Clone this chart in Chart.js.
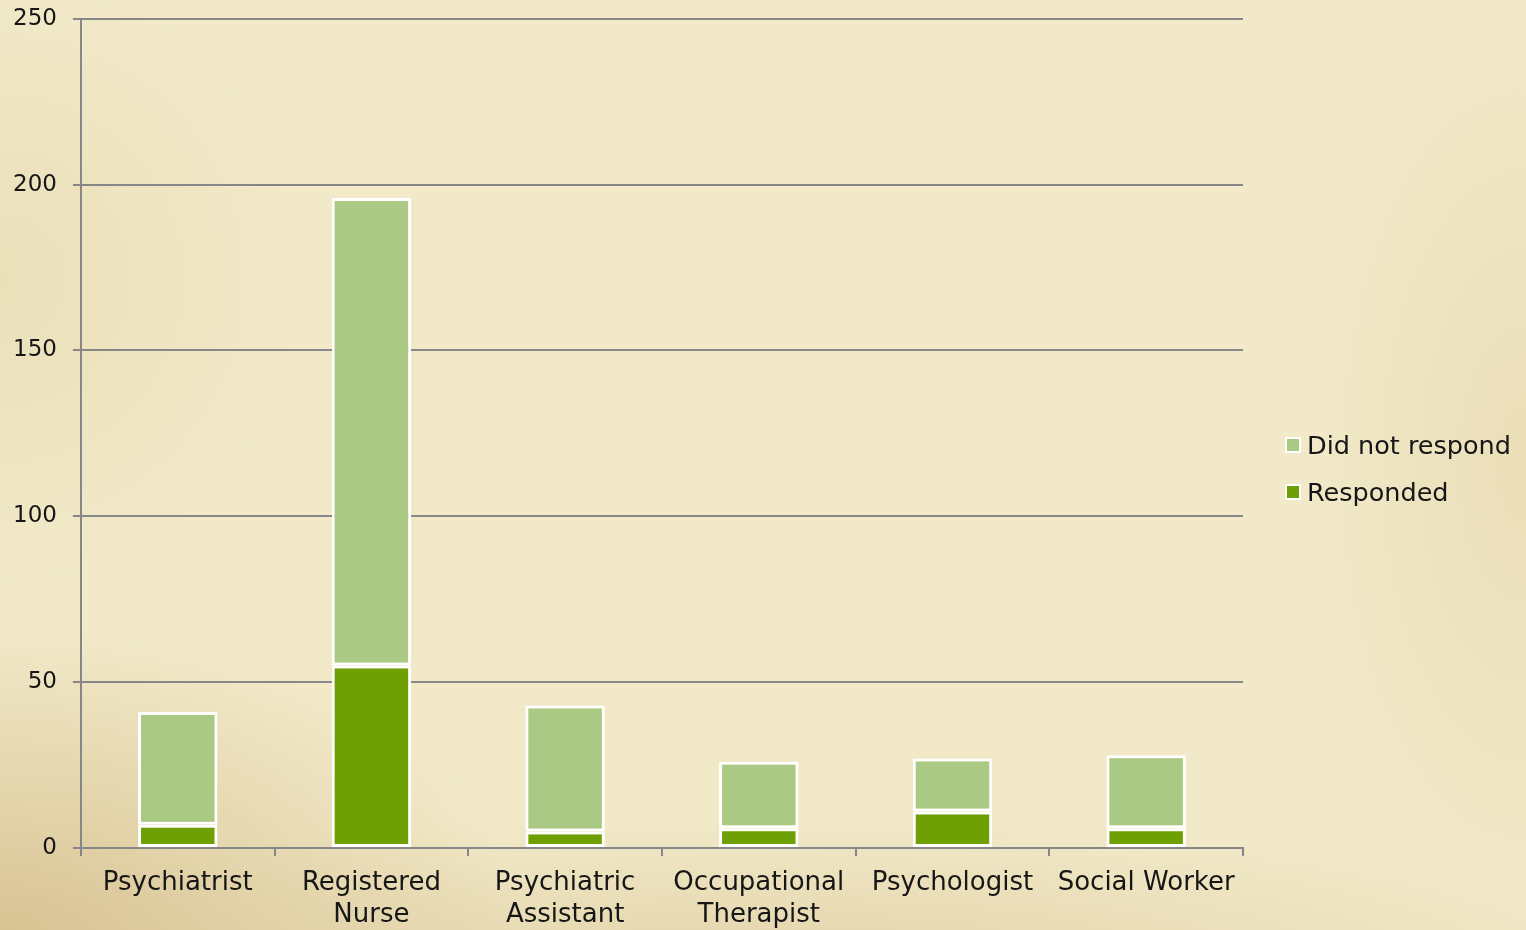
<!DOCTYPE html>
<html>
<head>
<meta charset="utf-8">
<script src="https://cdn.jsdelivr.net/npm/chart.js@4.4.1/dist/chart.umd.min.js"></script>
<style>
  html, body {
    margin: 0;
    padding: 0;
    width: 1526px;
    height: 930px;
    overflow: hidden;
  }
  body {
    background-color: #f1e9c8;
    background-image:
      radial-gradient(ellipse 520px 300px at 0% 100%, rgba(196, 165, 105, 0.55), rgba(196, 165, 105, 0) 100%),
      radial-gradient(ellipse 900px 160px at 50% 105%, rgba(205, 178, 120, 0.4), rgba(205, 178, 120, 0) 100%),
      radial-gradient(ellipse 220px 450px at 100% 50%, rgba(214, 190, 135, 0.25), rgba(214, 190, 135, 0) 100%),
      radial-gradient(ellipse 300px 300px at 0% 30%, rgba(214, 195, 140, 0.25), rgba(214, 195, 140, 0) 100%);
  }
  #wrap {
    position: relative;
    width: 1526px;
    height: 930px;
  }
  #chart {
    position: absolute;
    left: -3px;
    top: -11px;
  }
  #legend {
    position: absolute;
    left: 1285px;
    top: 421px;
    font-family: "DejaVu Sans", sans-serif;
    font-size: 25.5px;
    color: #161616;
  }
  .item {
    display: flex;
    align-items: center;
    height: 47px;
  }
  .swatch {
    width: 12px;
    height: 12px;
    border: 2px solid #fff;
    margin-right: 6px;
  }
</style>
</head>
<body>
<div id="wrap">
  <canvas id="chart" width="1529" height="943"></canvas>
  <div id="legend"></div>
</div>
<script>
const categories = [
  "Psychiatrist",
  ["Registered", "Nurse"],
  ["Psychiatric", "Assistant"],
  ["Occupational", "Therapist"],
  "Psychologist",
  "Social Worker",
];
const responded = [7, 55, 5, 6, 11, 6];
const didNotRespond = [34, 141, 38, 20, 16, 22];
const yTicks = [0, 50, 100, 150, 200, 250];

const lightGreen = "#a9c985";
const darkGreen = "#6ea004";
const gridGray = "#878787";
const fontFamily = '"DejaVu Sans", sans-serif';

const ctx = document.getElementById("chart").getContext("2d");
new Chart(ctx, {
  type: "bar",
  data: {
    labels: categories,
    datasets: [
      {
        label: "Responded",
        data: responded,
        backgroundColor: darkGreen,
        borderColor: "#ffffff",
        borderWidth: 3,
        borderSkipped: false,
      },
      {
        label: "Did not respond",
        data: didNotRespond,
        backgroundColor: lightGreen,
        borderColor: "#ffffff",
        borderWidth: 3,
        borderSkipped: false,
      },
    ],
  },
  options: {
    responsive: false,
    devicePixelRatio: 1,
    animation: false,
    categoryPercentage: 1,
    barPercentage: 0.41,
    layout: {
      padding: { left: 0, right: 283, top: 0, bottom: -10 },
    },
    plugins: {
      legend: { display: false },
      tooltip: { enabled: false },
    },
    scales: {
      x: {
        stacked: true,
        grid: {
          offset: true,
          drawOnChartArea: false,
          drawTicks: true,
          tickLength: 8,
          color: gridGray,
          lineWidth: 2,
        },
        border: { display: true, color: gridGray, width: 2 },
        ticks: {
          color: "#161616",
          padding: 11,
          maxRotation: 0,
          autoSkip: false,
          font: { family: fontFamily, size: 26, lineHeight: 1.23 },
        },
      },
      y: {
        stacked: true,
        min: 0,
        max: 250,
        afterBuildTicks: function (axis) {
          axis.ticks = yTicks.map((v) => ({ value: v }));
        },
        grid: {
          color: gridGray,
          lineWidth: 2,
          tickLength: 8,
        },
        border: { display: true, color: gridGray, width: 2 },
        ticks: {
          color: "#161616",
          padding: 16,
          font: { family: fontFamily, size: 23 },
        },
      },
    },
  },
});

// legend (reverse order like the original)
const legendEl = document.getElementById("legend");
[
  { label: "Did not respond", color: lightGreen },
  { label: "Responded", color: darkGreen },
].forEach((it) => {
  const row = document.createElement("div");
  row.className = "item";
  row.innerHTML =
    '<div class="swatch" style="background:' + it.color + '"></div><span>' + it.label + "</span>";
  legendEl.appendChild(row);
});
</script>
</body>
</html>
